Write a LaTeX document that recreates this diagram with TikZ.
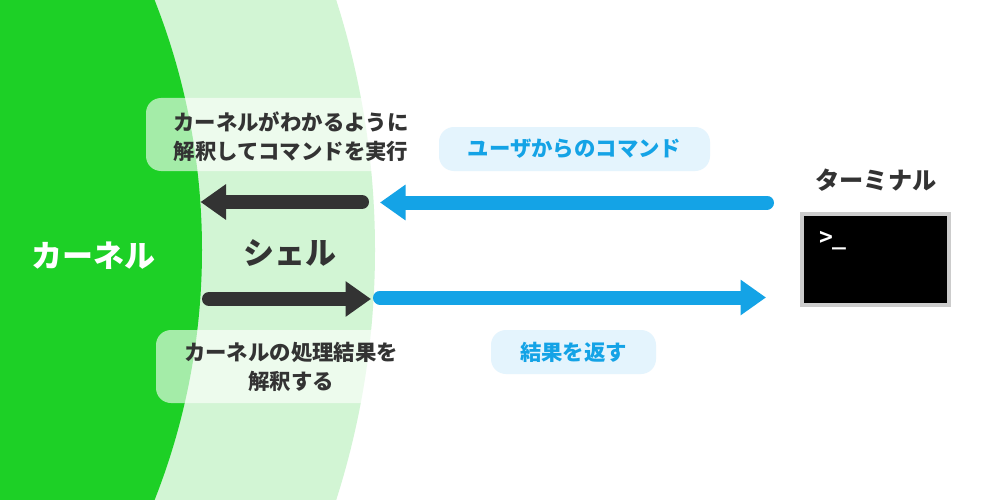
\documentclass[tikz,border=0pt]{standalone}
\usepackage{fontspec}
\setmainfont{Noto Sans CJK JP}
\newfontfamily\termfont{DejaVu Sans Mono}
\usetikzlibrary{arrows.meta}
\definecolor{kgreen}{HTML}{1DD026}
\definecolor{sgreen}{HTML}{D2F5D4}
\definecolor{cblue}{HTML}{14A3E6}
\definecolor{pblue}{HTML}{E4F4FD}
\definecolor{ink}{HTML}{333333}
\tikzset{
  x=1pt,y=-1pt,
  txt/.style={font=\bfseries\fontsize{#1}{#1}\selectfont,inner sep=0pt,text=ink,align=center},
  notebox/.style={fill=white,fill opacity=.6,rounded corners=15pt,inner sep=0pt},
  bluebox/.style={fill=pblue,rounded corners=15pt,inner sep=0pt},
  bluetxt/.style={font=\bfseries\fontsize{21.4}{21.4}\selectfont,inner sep=0pt,text=cblue},
  bigarrow/.style={line width=14pt,line cap=round,-{Triangle[length=25.5pt,width=34pt]}},
}
\begin{document}
\begin{tikzpicture}
\useasboundingbox (0,0) rectangle (1000,500);
\clip (0,0) rectangle (1000,500);
\fill[white] (0,0) rectangle (1000,500);
\fill[sgreen] (-445,250) circle[radius=820];
\fill[kgreen] (-478,250) circle[radius=680];
% note boxes
\fill[notebox] (146,98) rectangle (438,171);
\fill[notebox] (156,330) rectangle (424,403);
\node[txt=21.4] (n1) at (291,138.5) {\begin{tabular}{@{}c@{}}カーネルがわかるように\\[4pt]解釈してコマンドを実行\end{tabular}};
\node[txt=21.4] (n2) at (291,369) {\begin{tabular}{@{}c@{}}カーネルの処理結果を\\[5pt]解釈する\end{tabular}};
% titles
\node[txt=31,text=white] (kernel) at (93.5,256) {カーネル};
\node[txt=31] (shell) at (290,253) {シェル};
\node[txt=24.2] (termlabel) at (876,180) {ターミナル};
% blue labels
\node[bluebox,minimum width=271pt,minimum height=44pt] (b1) at (574.5,149) {};
\node[bluetxt] at (b1) {ユーザからのコマンド};
\node[bluebox,minimum width=165pt,minimum height=44pt] (b2) at (573.5,352) {};
\node[bluetxt] at (b2) {結果を返す};
% terminal
\node[fill=black,draw=black!20,line width=4pt,minimum width=147pt,minimum height=91pt,inner sep=0pt] (term) at (875.5,259.5) {};
\node[inner sep=0pt,text=white,font=\termfont\bfseries\fontsize{23}{23}\selectfont] (prompt) at (832.5,241) {>\kern-1pt\_};
% connectors
\coordinate (a1s) at (767,202.5); \coordinate (a1e) at (380,202.5);
\coordinate (a2s) at (362,202); \coordinate (a2e) at (200.5,202);
\coordinate (a3s) at (209,299); \coordinate (a3e) at (371,299);
\coordinate (a4s) at (380,297.5); \coordinate (a4e) at (766,297.5);
\draw[bigarrow,cblue] (a1s) -- (a1e);
\draw[bigarrow,ink] (a2s) -- (a2e);
\draw[bigarrow,ink] (a3s) -- (a3e);
\draw[bigarrow,cblue] (a4s) -- (a4e);
\end{tikzpicture}
\end{document}
